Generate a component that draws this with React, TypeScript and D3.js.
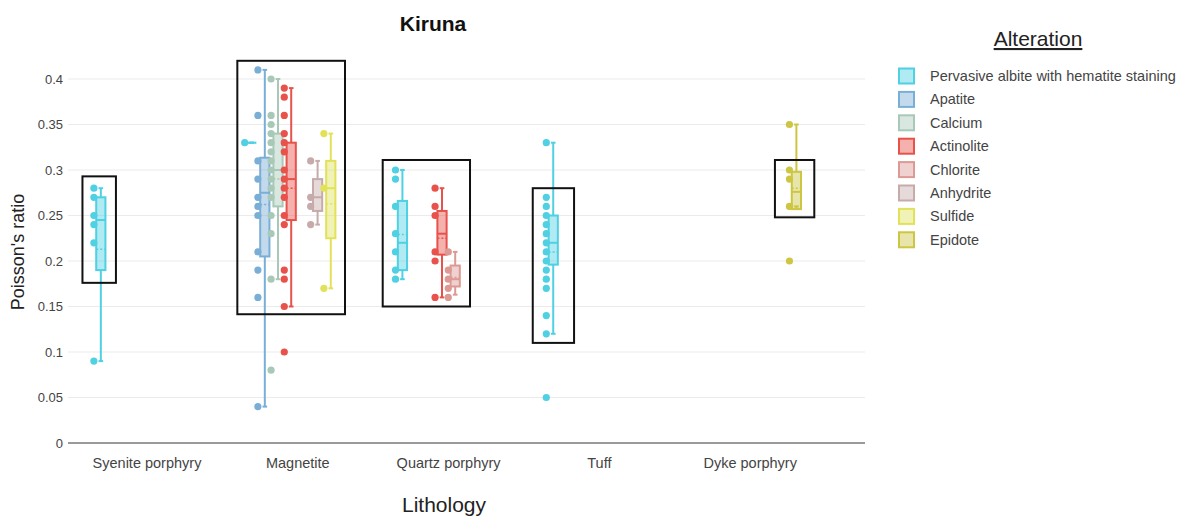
import React from "react";
import * as d3 from "d3";

const categories = ["Syenite porphyry", "Magnetite", "Quartz porphyry", "Tuff", "Dyke porphyry"];
const alterations = [
  "Pervasive albite with hematite staining",
  "Apatite",
  "Calcium",
  "Actinolite",
  "Chlorite",
  "Anhydrite",
  "Sulfide",
  "Epidote",
];
const colors = ["#4fd0e3", "#79aed6", "#a9c9b8", "#e8524b", "#dc9a95", "#c6abaa", "#e1e25a", "#cdc642"];
const yTicks = [0, 0.05, 0.1, 0.15, 0.2, 0.25, 0.3, 0.35, 0.4];

// each box: alteration index, category, sample points, and box statistics
const boxAlt = [0, 0, 1, 2, 3, 5, 6, 0, 3, 4, 0, 7];
const boxCat = [
  "Syenite porphyry", "Magnetite", "Magnetite", "Magnetite", "Magnetite", "Magnetite", "Magnetite",
  "Quartz porphyry", "Quartz porphyry", "Quartz porphyry", "Tuff", "Dyke porphyry",
];
const boxPoints = [
  [0.09, 0.22, 0.24, 0.25, 0.27, 0.28],
  [0.33],
  [0.41, 0.36, 0.31, 0.29, 0.27, 0.26, 0.25, 0.21, 0.19, 0.16, 0.04],
  [0.4, 0.36, 0.35, 0.34, 0.33, 0.32, 0.31, 0.3, 0.29, 0.28, 0.27, 0.25, 0.23, 0.18, 0.08],
  [0.39, 0.38, 0.36, 0.34, 0.33, 0.32, 0.3, 0.29, 0.28, 0.27, 0.25, 0.24, 0.19, 0.18, 0.15, 0.1],
  [0.31, 0.27, 0.26, 0.24],
  [0.34, 0.28, 0.17],
  [0.3, 0.29, 0.26, 0.23, 0.21, 0.19, 0.18],
  [0.28, 0.26, 0.25, 0.21, 0.2, 0.16],
  [0.21, 0.19, 0.18, 0.17, 0.16],
  [0.33, 0.27, 0.26, 0.25, 0.24, 0.23, 0.22, 0.21, 0.2, 0.19, 0.18, 0.17, 0.14, 0.12, 0.05],
  [0.35, 0.3, 0.29, 0.26, 0.2],
];
const boxLow = [0.09, 0.33, 0.04, 0.18, 0.15, 0.24, 0.17, 0.18, 0.16, 0.163, 0.12, 0.26];
const boxQ1 = [0.19, 0.33, 0.205, 0.26, 0.245, 0.255, 0.225, 0.19, 0.207, 0.172, 0.196, 0.257];
const boxMedian = [0.245, 0.33, 0.275, 0.3, 0.29, 0.27, 0.28, 0.22, 0.23, 0.18, 0.22, 0.276];
const boxMean = [0.213, 0.33, 0.262, 0.29, 0.28, 0.27, 0.263, 0.229, 0.225, 0.182, 0.21, 0.28];
const boxQ3 = [0.27, 0.33, 0.3135, 0.34, 0.33, 0.29, 0.31, 0.266, 0.255, 0.195, 0.25, 0.298];
const boxHigh = [0.28, 0.33, 0.41, 0.4, 0.39, 0.31, 0.34, 0.3, 0.28, 0.21, 0.33, 0.35];

// highlight rectangles: category, x-extent in category units relative to the category centre, y-extent in data
const rectCat = ["Syenite porphyry", "Magnetite", "Quartz porphyry", "Tuff", "Dyke porphyry"];
const rectX0 = [-0.428, -0.401, -0.437, -0.442, 0.164];
const rectX1 = [-0.206, 0.313, 0.142, -0.168, 0.425];
const rectY0 = [0.176, 0.1415, 0.15, 0.11, 0.248];
const rectY1 = [0.293, 0.42, 0.311, 0.28, 0.311];

const W = 1183;
const H = 516;
const plotLeft = 68;
const plotRight = 865;
const font = "'Liberation Sans', Arial, Helvetica, sans-serif";

export default function App() {
  const x = d3.scalePoint<string>().domain(categories).range([147, 750.2]);
  const step = x.step();
  const y = d3.scaleLinear().domain([0, 0.4]).range([443, 79]);
  const groupW = step * 0.7;
  const slot = groupW / alterations.length;
  const bw = slot * 0.7;
  const slotCenter = (cat: string, k: number) => (x(cat) as number) - groupW / 2 + slot * (k + 0.5);

  return (
    <svg width={W} height={H} style={{ position: "absolute", left: 0, top: 0, display: "block", background: "#fff" }} fontFamily={font}>
      {/* gridlines */}
      {yTicks.map((t) =>
        t === 0 ? null : (
          <line key={"g" + t} x1={plotLeft} x2={plotRight} y1={y(t)} y2={y(t)} stroke="#ebebeb" strokeWidth={1} />
        )
      )}
      {/* y tick labels */}
      {yTicks.map((t) => (
        <text key={"yt" + t} x={63} y={y(t)} dy="0.35em" textAnchor="end" fontSize={13} fill="#444">
          {d3.format("~g")(t)}
        </text>
      ))}
      {/* zero line / x axis */}
      <line x1={plotLeft} x2={plotRight} y1={y(0)} y2={y(0)} stroke="#9a9a9a" strokeWidth={2} />
      {categories.map((c) => (
        <text key={c} x={x(c)} y={468} textAnchor="middle" fontSize={14.5} fill="#444">
          {c}
        </text>
      ))}
      {/* boxes */}
      {boxAlt.map((k, i) => {
        const cat = boxCat[i];
        const cx = slotCenter(cat, k);
        const col = colors[k];
        const cap = bw * 0.25;
        const px = cx - 1.5 * (bw / 2);
        return (
          <g key={"b" + i}>
            <line x1={cx} x2={cx} y1={y(boxHigh[i])} y2={y(boxQ3[i])} stroke={col} strokeWidth={2} />
            <line x1={cx} x2={cx} y1={y(boxQ1[i])} y2={y(boxLow[i])} stroke={col} strokeWidth={2} />
            <line x1={cx - cap} x2={cx + cap} y1={y(boxHigh[i])} y2={y(boxHigh[i])} stroke={col} strokeWidth={2} />
            <line x1={cx - cap} x2={cx + cap} y1={y(boxLow[i])} y2={y(boxLow[i])} stroke={col} strokeWidth={2} />
            <rect
              x={cx - bw / 2}
              y={y(boxQ3[i])}
              width={bw}
              height={Math.max(0, y(boxQ1[i]) - y(boxQ3[i]))}
              fill={col}
              fillOpacity={0.45}
              stroke={col}
              strokeWidth={2}
            />
            <line x1={cx - bw / 2} x2={cx + bw / 2} y1={y(boxMedian[i])} y2={y(boxMedian[i])} stroke={col} strokeWidth={2} />
            <line
              x1={cx - bw / 2}
              x2={cx + bw / 2}
              y1={y(boxMean[i])}
              y2={y(boxMean[i])}
              stroke={col}
              strokeWidth={1.5}
              strokeDasharray="2,2"
            />
            {boxPoints[i].map((v, j) => (
              <circle key={j} cx={px} cy={y(v)} r={3.6} fill={col} />
            ))}
          </g>
        );
      })}
      {/* highlight rectangles */}
      {rectCat.map((c, i) => {
        const x0 = (x(c) as number) + rectX0[i] * step;
        const x1 = (x(c) as number) + rectX1[i] * step;
        return (
          <rect
            key={"r" + i}
            x={x0}
            y={y(rectY1[i])}
            width={x1 - x0}
            height={y(rectY0[i]) - y(rectY1[i])}
            fill="none"
            stroke="#111"
            strokeWidth={2}
          />
        );
      })}
      {/* titles */}
      <text x={433} y={31} textAnchor="middle" fontSize={21} fontWeight="bold" fill="#111">
        Kiruna
      </text>
      <text x={444} y={512} textAnchor="middle" fontSize={21} fill="#222">
        Lithology
      </text>
      <text transform={`translate(24,${252}) rotate(-90)`} textAnchor="middle" fontSize={18} fill="#222">
        Poisson's ratio
      </text>
      {/* legend */}
      <text x={1038} y={46} textAnchor="middle" fontSize={21} fill="#222" textDecoration="underline">
        Alteration
      </text>
      {alterations.map((a, k) => {
        const ly = 76 + k * 23.4;
        return (
          <g key={a}>
            <rect x={899} y={ly - 7.5} width={15} height={15} fill={colors[k]} fillOpacity={0.45} stroke={colors[k]} strokeWidth={2} />
            <text x={930} y={ly} dy="0.35em" fontSize={14.5} fill="#444">
              {a}
            </text>
          </g>
        );
      })}
    </svg>
  );
}
